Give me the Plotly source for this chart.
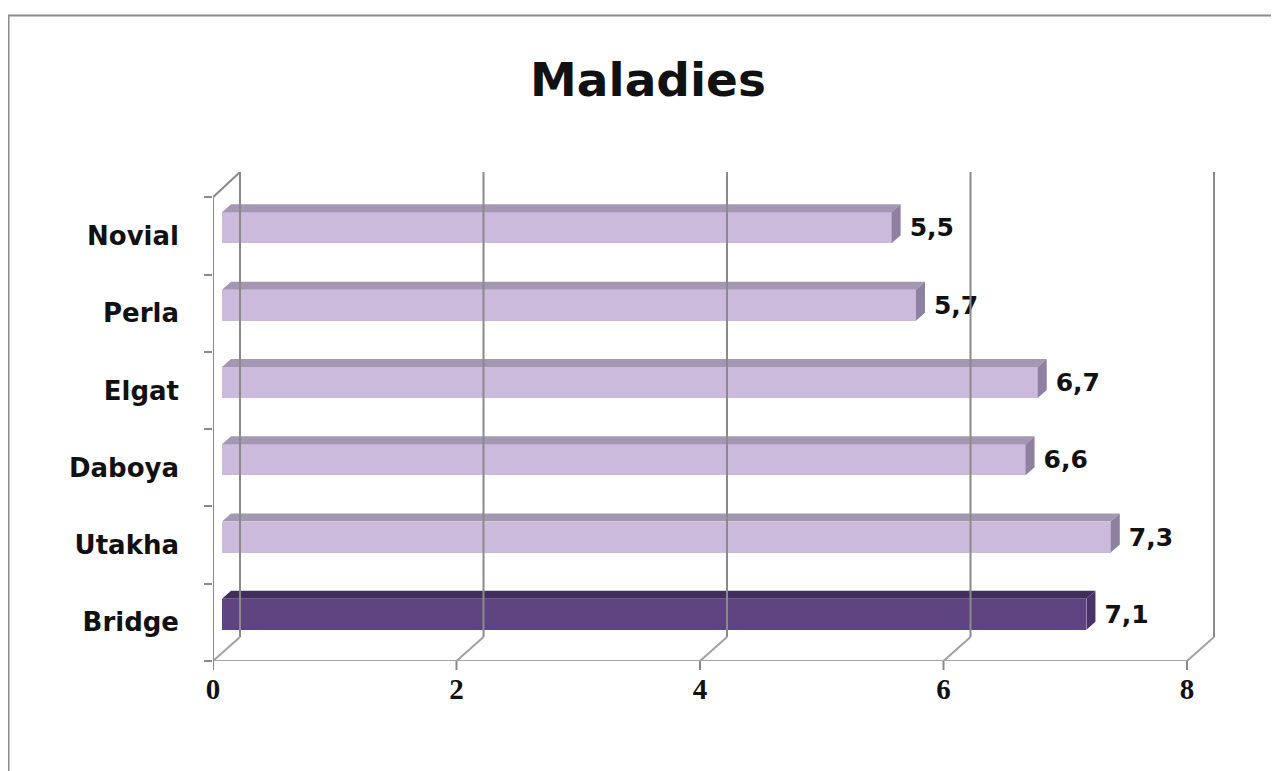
import plotly.graph_objects as go

# ---- data ----
categories = ["Bridge", "Utakha", "Daboya", "Elgat", "Perla", "Novial"]
values = [7.1, 7.3, 6.6, 6.7, 5.7, 5.5]
highlight = [True, False, False, False, False, False]
x_ticks = [0, 2, 4, 6, 8]
title_text = "Maladies"

# ---- geometry (pixel calibration of the 3D look) ----
OFF = 8                                        # page body margin
W, H = 1279 - OFF, 771 - OFF
PL, PR, PT, PB = 213 - OFF, 1216 - OFF, 172 - OFF, 661 - OFF
PXU = 121.75                                   # px per x unit
PYU = 77.3                                     # px per category
XMAX = (PR - PL) / PXU
YMIN = -0.5
YMAX = YMIN + (PB - PT) / PYU
DEPTH_X = 27 / PXU
DEPTH_Y = 24 / PYU
BAR_BASE = DEPTH_X / 3
BAR_SHIFT = DEPTH_Y / 3
BAR_H = 31 / PYU
BDX = 9 / PXU
BDY = 8 / PYU
LABEL_GAP = 9 / PXU

LIGHT = dict(front="#cbbadb", top="#a497b2", side="#8e80a0")
DARK = dict(front="#5e4581", top="#412d5c", side="#4a3467")
SANS = "DejaVu Sans, Verdana, sans-serif"

fig = go.Figure()

ypos = [i + BAR_SHIFT for i in range(len(categories))]
front_colors = [DARK["front"] if h else LIGHT["front"] for h in highlight]

fig.add_trace(go.Bar(
    y=ypos, x=values, base=[BAR_BASE] * len(values), orientation="h",
    width=BAR_H, marker=dict(color=front_colors, line=dict(width=0)),
    customdata=categories, hovertemplate="%{customdata}: %{x}<extra></extra>",
    showlegend=False,
))

for is_dark in (False, True):
    pal = DARK if is_dark else LIGHT
    tx, ty, sx, sy = [], [], [], []
    for v, yc, h in zip(values, ypos, highlight):
        if h != is_dark:
            continue
        x0, x1 = BAR_BASE, BAR_BASE + v
        yt, yb = yc + BAR_H / 2, yc - BAR_H / 2
        tx += [x0, x1, x1 + BDX, x0 + BDX, x0, None]
        ty += [yt, yt, yt + BDY, yt + BDY, yt, None]
        sx += [x1, x1 + BDX, x1 + BDX, x1, x1, None]
        sy += [yb, yb + BDY, yt + BDY, yt, yb, None]
    fig.add_trace(go.Scatter(x=tx, y=ty, fill="toself", fillcolor=pal["top"],
                             mode="lines", line=dict(width=0), hoverinfo="skip",
                             showlegend=False))
    fig.add_trace(go.Scatter(x=sx, y=sy, fill="toself", fillcolor=pal["side"],
                             mode="lines", line=dict(width=0), hoverinfo="skip",
                             showlegend=False))

fig.add_trace(go.Scatter(
    x=[BAR_BASE + v + BDX + LABEL_GAP for v in values], y=[y - 0.03 for y in ypos],
    mode="text", text=[f"<b>{v:.1f}</b>".replace(".", ",") for v in values],
    textposition="middle right",
    textfont=dict(family=SANS, size=25, color="#111111"),
    hoverinfo="skip", showlegend=False,
))

GRID = "#8a8a8a"
shapes = []
yback_bottom = YMIN + DEPTH_Y
tick_len_paper = 9 / (PB - PT)
for t in x_ticks:
    shapes.append(dict(type="line", xref="x", yref="y", x0=t + DEPTH_X, x1=t + DEPTH_X,
                       y0=yback_bottom, y1=YMAX, line=dict(color=GRID, width=2)))
    shapes.append(dict(type="line", xref="x", yref="y", x0=t, x1=t + DEPTH_X,
                       y0=YMIN, y1=yback_bottom, line=dict(color="#a0a0a0", width=2)))
    shapes.append(dict(type="line", xref="x", yref="paper", x0=t, x1=t,
                       y0=0, y1=-tick_len_paper, line=dict(color=GRID, width=2)))
shapes.append(dict(type="line", xref="x", yref="y", x0=0, x1=x_ticks[-1],
                   y0=YMIN, y1=YMIN, line=dict(color="#a8a8a0", width=2)))
ytop_front = YMIN + len(categories)
shapes.append(dict(type="line", xref="x", yref="y", x0=0, x1=0,
                   y0=YMIN, y1=ytop_front, line=dict(color=GRID, width=2)))
shapes.append(dict(type="line", xref="x", yref="y", x0=0, x1=DEPTH_X,
                   y0=ytop_front, y1=YMAX, line=dict(color=GRID, width=2)))
shapes.append(dict(type="rect", xref="paper", yref="paper",
                   x0=(8.5 - OFF - PL) / (PR - PL), x1=1.3,
                   y0=-0.4, y1=(PB - (15.5 - OFF)) / (PB - PT),
                   line=dict(color="#8c8c8c", width=2), layer="below"))

fig.update_layout(
    width=W, height=H,
    margin=dict(l=PL, r=W - PR, t=PT, b=H - PB),
    paper_bgcolor="white", plot_bgcolor="rgba(0,0,0,0)",
    shapes=shapes,
    title=dict(text=f"<b>{title_text}</b>", x=(648 - OFF) / W, xref="container",
               xanchor="center", y=1 - (80 - OFF) / H, yanchor="middle",
               font=dict(family=SANS, size=47, color="#111111")),
    bargap=0,
)
fig.update_xaxes(
    range=[0, XMAX], tickvals=x_ticks, ticktext=[f"<b>{t}</b>" for t in x_ticks],
    showgrid=False, zeroline=False, showline=False,
    ticks="", ticklabelstandoff=8,
    tickfont=dict(family="Liberation Serif, serif", size=29, color="#111111"),
    fixedrange=True,
)
fig.update_yaxes(
    range=[YMIN, YMAX], tickvals=list(range(len(categories))),
    ticktext=[f"<b>{c}</b>" for c in categories],
    showgrid=False, zeroline=False, showline=False, ticks="",
    ticklabelstandoff=33,
    minor=dict(tickvals=[i - 0.5 for i in range(len(categories) + 1)],
               ticks="outside", ticklen=8, tickwidth=2, tickcolor=GRID),
    tickfont=dict(family=SANS, size=26, color="#111111"),
    fixedrange=True,
)

fig.write_html("out.html")
